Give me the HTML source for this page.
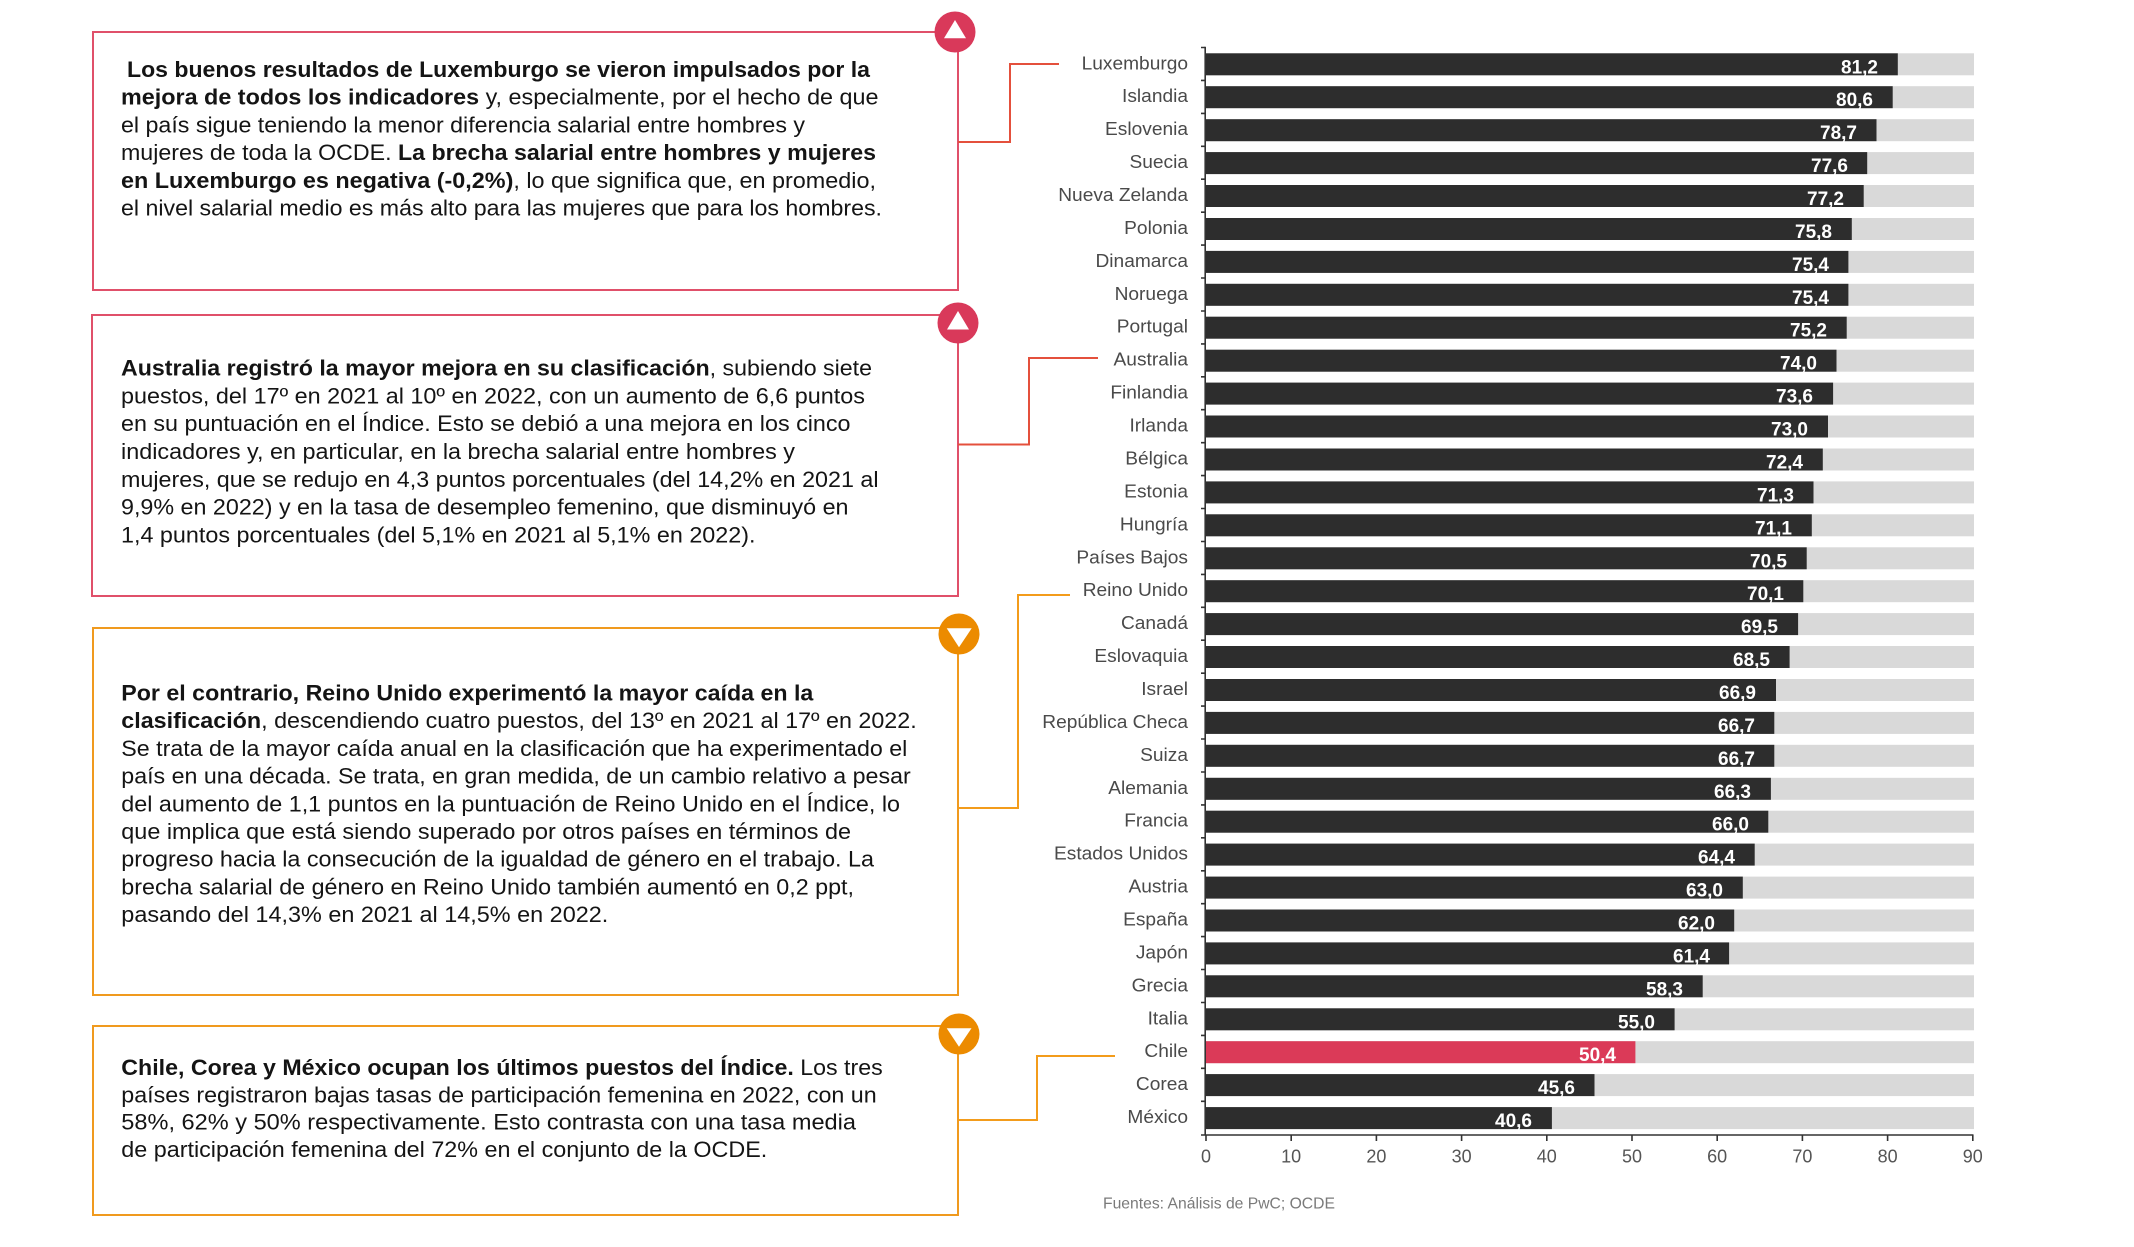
<!DOCTYPE html>
<html>
<head>
<meta charset="utf-8">
<style>
  html,body{margin:0;padding:0;background:#fff;}
  svg{display:block;}
  .bx{font-family:"Liberation Sans",Arial,sans-serif;font-size:22px;fill:#141414;}
  .cl{font-family:"Liberation Sans",Arial,sans-serif;font-size:18.5px;fill:#4a4a4a;}
  .vl{font-family:"Liberation Sans",Arial,sans-serif;font-size:19px;font-weight:bold;fill:#fff;}
  .tk{font-family:"Liberation Sans",Arial,sans-serif;font-size:18px;fill:#555;}
  .src{font-family:"Liberation Sans",Arial,sans-serif;font-size:15.7px;fill:#7a7a7a;}
</style>
</head>
<body>
<svg width="2134" height="1247" viewBox="0 0 2134 1247" xmlns="http://www.w3.org/2000/svg">
<rect x="0" y="0" width="2134" height="1247" fill="#fff"/>

<!-- ===== Boxes ===== -->
<rect x="93" y="32" width="865" height="258" fill="none" stroke="#e0506a" stroke-width="2"/>
<rect x="92" y="315" width="866" height="281" fill="none" stroke="#e0506a" stroke-width="2"/>
<rect x="93" y="628" width="865" height="367" fill="none" stroke="#f09a1e" stroke-width="2"/>
<rect x="93" y="1026" width="865" height="189" fill="none" stroke="#f09a1e" stroke-width="2"/>

<!-- connectors -->
<polyline points="958,142 1010,142 1010,64 1059,64" fill="none" stroke="#e4503c" stroke-width="2"/>
<polyline points="958,444.5 1029,444.5 1029,358 1098,358" fill="none" stroke="#e4503c" stroke-width="2"/>
<polyline points="959,808 1018,808 1018,595 1070,595" fill="none" stroke="#f39c1b" stroke-width="2"/>
<polyline points="959,1120 1037,1120 1037,1056 1115,1056" fill="none" stroke="#f39c1b" stroke-width="2"/>

<!-- circles -->
<circle cx="955" cy="32" r="20.5" fill="#d9395a"/>
<polygon points="955,20 944,38.3 966,38.3" fill="#fff"/>
<circle cx="958" cy="323" r="20.5" fill="#d9395a"/>
<polygon points="958,311 947,329.5 969,329.5" fill="#fff"/>
<circle cx="959" cy="634" r="20.5" fill="#ec8b00"/>
<polygon points="946.7,628.3 971.7,628.3 959,647.3" fill="#fff"/>
<circle cx="959" cy="1034" r="20.5" fill="#ec8b00"/>
<polygon points="946.7,1028.3 971.5,1028.3 959,1046.7" fill="#fff"/>

<!-- Box 1 text -->
<text class="bx" x="127" y="77" textLength="743" lengthAdjust="spacingAndGlyphs"><tspan font-weight="bold">Los buenos resultados de Luxemburgo se vieron impulsados por la</tspan></text>
<text class="bx" x="121" y="104.7" textLength="757.5" lengthAdjust="spacingAndGlyphs"><tspan font-weight="bold">mejora de todos los indicadores</tspan> y, especialmente, por el hecho de que</text>
<text class="bx" x="121" y="132.4" textLength="684" lengthAdjust="spacingAndGlyphs">el país sigue teniendo la menor diferencia salarial entre hombres y</text>
<text class="bx" x="121" y="160.1" textLength="755" lengthAdjust="spacingAndGlyphs">mujeres de toda la OCDE. <tspan font-weight="bold">La brecha salarial entre hombres y mujeres</tspan></text>
<text class="bx" x="121" y="187.8" textLength="755" lengthAdjust="spacingAndGlyphs"><tspan font-weight="bold">en Luxemburgo es negativa (-0,2%)</tspan>, lo que significa que, en promedio,</text>
<text class="bx" x="121" y="215.5" textLength="761" lengthAdjust="spacingAndGlyphs">el nivel salarial medio es más alto para las mujeres que para los hombres.</text>

<!-- Box 2 text -->
<text class="bx" x="121" y="375.6" textLength="751" lengthAdjust="spacingAndGlyphs"><tspan font-weight="bold">Australia registró la mayor mejora en su clasificación</tspan>, subiendo siete</text>
<text class="bx" x="121" y="403.4" textLength="744" lengthAdjust="spacingAndGlyphs">puestos, del 17º en 2021 al 10º en 2022, con un aumento de 6,6 puntos</text>
<text class="bx" x="121" y="431.2" textLength="729.5" lengthAdjust="spacingAndGlyphs">en su puntuación en el Índice. Esto se debió a una mejora en los cinco</text>
<text class="bx" x="121" y="459" textLength="674" lengthAdjust="spacingAndGlyphs">indicadores y, en particular, en la brecha salarial entre hombres y</text>
<text class="bx" x="121" y="486.8" textLength="757.5" lengthAdjust="spacingAndGlyphs">mujeres, que se redujo en 4,3 puntos porcentuales (del 14,2% en 2021 al</text>
<text class="bx" x="121" y="514.6" textLength="727.5" lengthAdjust="spacingAndGlyphs">9,9% en 2022) y en la tasa de desempleo femenino, que disminuyó en</text>
<text class="bx" x="121" y="542.4" textLength="634.5" lengthAdjust="spacingAndGlyphs">1,4 puntos porcentuales (del 5,1% en 2021 al 5,1% en 2022).</text>

<!-- Box 3 text -->
<text class="bx" x="121.3" y="700.5" textLength="692" lengthAdjust="spacingAndGlyphs"><tspan font-weight="bold">Por el contrario, Reino Unido experimentó la mayor caída en la</tspan></text>
<text class="bx" x="121.3" y="728.2" textLength="795.4" lengthAdjust="spacingAndGlyphs"><tspan font-weight="bold">clasificación</tspan>, descendiendo cuatro puestos, del 13º en 2021 al 17º en 2022.</text>
<text class="bx" x="121.3" y="755.9" textLength="786" lengthAdjust="spacingAndGlyphs">Se trata de la mayor caída anual en la clasificación que ha experimentado el</text>
<text class="bx" x="121.3" y="783.6" textLength="789.4" lengthAdjust="spacingAndGlyphs">país en una década. Se trata, en gran medida, de un cambio relativo a pesar</text>
<text class="bx" x="121.3" y="811.3" textLength="778.7" lengthAdjust="spacingAndGlyphs">del aumento de 1,1 puntos en la puntuación de Reino Unido en el Índice, lo</text>
<text class="bx" x="121.3" y="839" textLength="729.7" lengthAdjust="spacingAndGlyphs">que implica que está siendo superado por otros países en términos de</text>
<text class="bx" x="121.3" y="866.7" textLength="752.7" lengthAdjust="spacingAndGlyphs">progreso hacia la consecución de la igualdad de género en el trabajo. La</text>
<text class="bx" x="121.3" y="894.4" textLength="732.7" lengthAdjust="spacingAndGlyphs">brecha salarial de género en Reino Unido también aumentó en 0,2 ppt,</text>
<text class="bx" x="121.3" y="922.1" textLength="487" lengthAdjust="spacingAndGlyphs">pasando del 14,3% en 2021 al 14,5% en 2022.</text>

<!-- Box 4 text -->
<text class="bx" x="121.3" y="1075" textLength="761.4" lengthAdjust="spacingAndGlyphs"><tspan font-weight="bold">Chile, Corea y México ocupan los últimos puestos del Índice.</tspan> Los tres</text>
<text class="bx" x="121.3" y="1102.3" textLength="755.4" lengthAdjust="spacingAndGlyphs">países registraron bajas tasas de participación femenina en 2022, con un</text>
<text class="bx" x="121.3" y="1129.6" textLength="734.7" lengthAdjust="spacingAndGlyphs">58%, 62% y 50% respectivamente. Esto contrasta con una tasa media</text>
<text class="bx" x="121.3" y="1156.9" textLength="646" lengthAdjust="spacingAndGlyphs">de participación femenina del 72% en el conjunto de la OCDE.</text>

<!-- ===== Chart ===== -->
<!-- background gray bars -->
<g fill="#d9d9d9">
<rect x="1206" y="53.3" width="768" height="22"/>
<rect x="1206" y="86.2" width="768" height="22"/>
<rect x="1206" y="119.2" width="768" height="22"/>
<rect x="1206" y="152.1" width="768" height="22"/>
<rect x="1206" y="185.0" width="768" height="22"/>
<rect x="1206" y="218.0" width="768" height="22"/>
<rect x="1206" y="250.9" width="768" height="22"/>
<rect x="1206" y="283.8" width="768" height="22"/>
<rect x="1206" y="316.7" width="768" height="22"/>
<rect x="1206" y="349.7" width="768" height="22"/>
<rect x="1206" y="382.6" width="768" height="22"/>
<rect x="1206" y="415.5" width="768" height="22"/>
<rect x="1206" y="448.5" width="768" height="22"/>
<rect x="1206" y="481.4" width="768" height="22"/>
<rect x="1206" y="514.3" width="768" height="22"/>
<rect x="1206" y="547.3" width="768" height="22"/>
<rect x="1206" y="580.2" width="768" height="22"/>
<rect x="1206" y="613.1" width="768" height="22"/>
<rect x="1206" y="646.0" width="768" height="22"/>
<rect x="1206" y="679.0" width="768" height="22"/>
<rect x="1206" y="711.9" width="768" height="22"/>
<rect x="1206" y="744.8" width="768" height="22"/>
<rect x="1206" y="777.8" width="768" height="22"/>
<rect x="1206" y="810.7" width="768" height="22"/>
<rect x="1206" y="843.6" width="768" height="22"/>
<rect x="1206" y="876.6" width="768" height="22"/>
<rect x="1206" y="909.5" width="768" height="22"/>
<rect x="1206" y="942.4" width="768" height="22"/>
<rect x="1206" y="975.3" width="768" height="22"/>
<rect x="1206" y="1008.3" width="768" height="22"/>
<rect x="1206" y="1041.2" width="768" height="22"/>
<rect x="1206" y="1074.1" width="768" height="22"/>
<rect x="1206" y="1107.1" width="768" height="22"/>
</g>

<!-- value bars -->
<g fill="#2d2d2d">
<rect x="1206" y="53.3" width="691.8" height="22"/>
<rect x="1206" y="86.2" width="686.7" height="22"/>
<rect x="1206" y="119.2" width="670.5" height="22"/>
<rect x="1206" y="152.1" width="661.2" height="22"/>
<rect x="1206" y="185.0" width="657.7" height="22"/>
<rect x="1206" y="218.0" width="645.8" height="22"/>
<rect x="1206" y="250.9" width="642.4" height="22"/>
<rect x="1206" y="283.8" width="642.4" height="22"/>
<rect x="1206" y="316.7" width="640.7" height="22"/>
<rect x="1206" y="349.7" width="630.5" height="22"/>
<rect x="1206" y="382.6" width="627.1" height="22"/>
<rect x="1206" y="415.5" width="622.0" height="22"/>
<rect x="1206" y="448.5" width="616.8" height="22"/>
<rect x="1206" y="481.4" width="607.5" height="22"/>
<rect x="1206" y="514.3" width="605.8" height="22"/>
<rect x="1206" y="547.3" width="600.7" height="22"/>
<rect x="1206" y="580.2" width="597.3" height="22"/>
<rect x="1206" y="613.1" width="592.1" height="22"/>
<rect x="1206" y="646.0" width="583.6" height="22"/>
<rect x="1206" y="679.0" width="570.0" height="22"/>
<rect x="1206" y="711.9" width="568.3" height="22"/>
<rect x="1206" y="744.8" width="568.3" height="22"/>
<rect x="1206" y="777.8" width="564.9" height="22"/>
<rect x="1206" y="810.7" width="562.3" height="22"/>
<rect x="1206" y="843.6" width="548.7" height="22"/>
<rect x="1206" y="876.6" width="536.8" height="22"/>
<rect x="1206" y="909.5" width="528.2" height="22"/>
<rect x="1206" y="942.4" width="523.1" height="22"/>
<rect x="1206" y="975.3" width="496.7" height="22"/>
<rect x="1206" y="1008.3" width="468.6" height="22"/>
<rect x="1206" y="1041.2" width="429.4" height="22" fill="#db3a58"/>
<rect x="1206" y="1074.1" width="388.5" height="22"/>
<rect x="1206" y="1107.1" width="345.9" height="22"/>
</g>

<!-- value labels -->
<g class="vl" text-anchor="end">
<text x="1878" y="73.3">81,2</text>
<text x="1873" y="106.2">80,6</text>
<text x="1857" y="139.2">78,7</text>
<text x="1848" y="172.1">77,6</text>
<text x="1844" y="205.0">77,2</text>
<text x="1832" y="238.0">75,8</text>
<text x="1829" y="270.9">75,4</text>
<text x="1829" y="303.8">75,4</text>
<text x="1827" y="336.7">75,2</text>
<text x="1817" y="369.7">74,0</text>
<text x="1813" y="402.6">73,6</text>
<text x="1808" y="435.5">73,0</text>
<text x="1803" y="468.5">72,4</text>
<text x="1794" y="501.4">71,3</text>
<text x="1792" y="534.3">71,1</text>
<text x="1787" y="567.3">70,5</text>
<text x="1784" y="600.2">70,1</text>
<text x="1778" y="633.1">69,5</text>
<text x="1770" y="666.0">68,5</text>
<text x="1756" y="699.0">66,9</text>
<text x="1755" y="731.9">66,7</text>
<text x="1755" y="764.8">66,7</text>
<text x="1751" y="797.8">66,3</text>
<text x="1749" y="830.7">66,0</text>
<text x="1735" y="863.6">64,4</text>
<text x="1723" y="896.6">63,0</text>
<text x="1715" y="929.5">62,0</text>
<text x="1710" y="962.4">61,4</text>
<text x="1683" y="995.3">58,3</text>
<text x="1655" y="1028.3">55,0</text>
<text x="1616" y="1061.2">50,4</text>
<text x="1575" y="1094.1">45,6</text>
<text x="1532" y="1127.1">40,6</text>
</g>

<!-- country labels -->
<g transform="translate(1188 0) scale(1.035 1)">
<g class="cl" text-anchor="end">
<text x="0" y="69.3">Luxemburgo</text>
<text x="0" y="102.2">Islandia</text>
<text x="0" y="135.2">Eslovenia</text>
<text x="0" y="168.1">Suecia</text>
<text x="0" y="201.0">Nueva Zelanda</text>
<text x="0" y="234.0">Polonia</text>
<text x="0" y="266.9">Dinamarca</text>
<text x="0" y="299.8">Noruega</text>
<text x="0" y="332.7">Portugal</text>
<text x="0" y="365.7">Australia</text>
<text x="0" y="398.6">Finlandia</text>
<text x="0" y="431.5">Irlanda</text>
<text x="0" y="464.5">Bélgica</text>
<text x="0" y="497.4">Estonia</text>
<text x="0" y="530.3">Hungría</text>
<text x="0" y="563.3">Países Bajos</text>
<text x="0" y="596.2">Reino Unido</text>
<text x="0" y="629.1">Canadá</text>
<text x="0" y="662.0">Eslovaquia</text>
<text x="0" y="695.0">Israel</text>
<text x="0" y="727.9">República Checa</text>
<text x="0" y="760.8">Suiza</text>
<text x="0" y="793.8">Alemania</text>
<text x="0" y="826.7">Francia</text>
<text x="0" y="859.6">Estados Unidos</text>
<text x="0" y="892.6">Austria</text>
<text x="0" y="925.5">España</text>
<text x="0" y="958.4">Japón</text>
<text x="0" y="991.3">Grecia</text>
<text x="0" y="1024.3">Italia</text>
<text x="0" y="1057.2">Chile</text>
<text x="0" y="1090.1">Corea</text>
<text x="0" y="1123.1">México</text>
</g>
</g>

<!-- axes -->
<g stroke="#333" stroke-width="1.6" fill="none">
<line x1="1205.2" y1="46.7" x2="1205.2" y2="1135"/>
<line x1="1205" y1="1135" x2="1973.5" y2="1135"/>
<path d="M1201,47.5H1205 M1201,80.4H1205 M1201,113.4H1205 M1201,146.3H1205 M1201,179.2H1205 M1201,212.2H1205 M1201,245.1H1205 M1201,278.0H1205 M1201,311.0H1205 M1201,343.9H1205 M1201,376.8H1205 M1201,409.7H1205 M1201,442.7H1205 M1201,475.6H1205 M1201,508.5H1205 M1201,541.5H1205 M1201,574.4H1205 M1201,607.3H1205 M1201,640.2H1205 M1201,673.2H1205 M1201,706.1H1205 M1201,739.0H1205 M1201,772.0H1205 M1201,804.9H1205 M1201,837.8H1205 M1201,870.8H1205 M1201,903.7H1205 M1201,936.6H1205 M1201,969.5H1205 M1201,1002.5H1205 M1201,1035.4H1205 M1201,1068.3H1205 M1201,1101.3H1205 M1201,1135H1205"/>
<path d="M1206,1135V1141 M1291.2,1135V1141 M1376.4,1135V1141 M1461.6,1135V1141 M1546.8,1135V1141 M1632,1135V1141 M1717.2,1135V1141 M1802.4,1135V1141 M1887.6,1135V1141 M1972.8,1135V1141"/>
</g>
<g class="tk" text-anchor="middle">
<text x="1206" y="1162.5">0</text>
<text x="1291.2" y="1162.5">10</text>
<text x="1376.4" y="1162.5">20</text>
<text x="1461.6" y="1162.5">30</text>
<text x="1546.8" y="1162.5">40</text>
<text x="1632" y="1162.5">50</text>
<text x="1717.2" y="1162.5">60</text>
<text x="1802.4" y="1162.5">70</text>
<text x="1887.6" y="1162.5">80</text>
<text x="1972.8" y="1162.5">90</text>
</g>

<text class="src" x="1103" y="1208.5">Fuentes: Análisis de PwC; OCDE</text>
</svg>
</body>
</html>
